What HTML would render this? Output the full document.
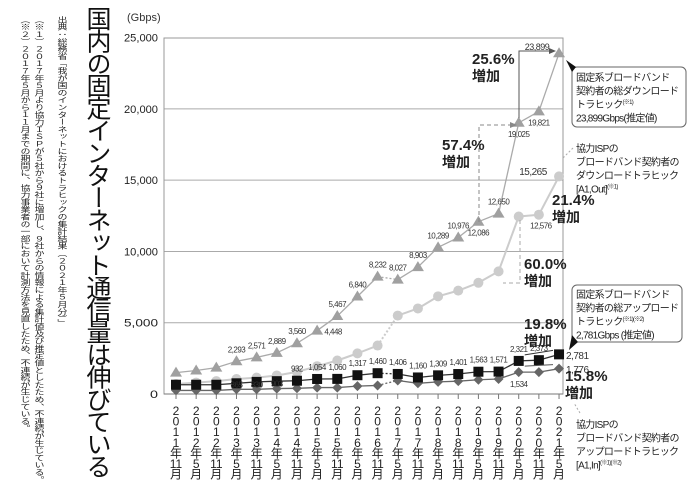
<!DOCTYPE html>
<html><head><meta charset="utf-8">
<style>
body{margin:0;background:#fff;}
#w{position:relative;width:688px;height:488px;overflow:hidden;font-family:"Liberation Sans","Noto Sans CJK JP",sans-serif;}
.v{position:absolute;writing-mode:vertical-rl;text-orientation:upright;white-space:nowrap;color:#222;}
.note{font-size:10px;transform:scaleY(0.73);transform-origin:top;line-height:12px;}
svg{position:absolute;left:0;top:0;}
</style></head><body><div id="w">
<div class="v" style="left:84px;top:6px;font-size:25px;font-weight:normal;letter-spacing:-2.6px;line-height:26px;color:#111;">国内の固定インターネット通信量は伸びている</div>
<div class="v note" style="left:54px;top:16px;">出典：総務省「我が国のインターネットにおけるトラヒックの集計結果（２０２１年５月分）」</div>
<div class="v note" style="left:31px;top:16px;">（※１）２０１７年５月より協力ＩＳＰが５社から９社に増加し、９社からの情報による集計値及び推定値としたため、不連続が生じている。</div>
<div class="v note" style="left:17px;top:16px;">（※２）２０１７年５月から１１月までの期間に、協力事業者の一部において計測方法を見直したため、不連続が生じている。</div>
<svg id="s" width="688" height="488" xmlns="http://www.w3.org/2000/svg" font-family="Liberation Sans, Noto Sans CJK JP, sans-serif"></svg>
</div>
<script>
const s=document.getElementById('s');let h='';
const X=i=>176+20.16*i, Y=v=>394-v*0.014256;
h+='<text x="127" y="21" font-size="11" fill="#333">(Gbps)</text>';
[0,5000,10000,15000,20000,25000].forEach(v=>{
 h+=`<text x="158" y="${Y(v)+4}" font-size="11" text-anchor="end" fill="#222" textLength="${v?34:8}" lengthAdjust="spacingAndGlyphs">${v?v.toLocaleString('en-US'):'0'}</text>`;
 if(v>0&&v<25000)h+=`<line x1="164" x2="563" y1="${Y(v)}" y2="${Y(v)}" stroke="#aaa" stroke-width="1"/>`;
});
h+='<rect x="164" y="38" width="399" height="356" fill="none" stroke="#999"/>';
h+='<line x1="164" x2="563" y1="394" y2="394" stroke="#777"/>';
const lab=['2011年11月','2012年5月','2012年11月','2013年5月','2013年11月','2014年5月','2014年11月','2015年5月','2015年11月','2016年5月','2016年11月','2017年5月','2017年11月','2018年5月','2018年11月','2019年5月','2019年11月','2020年5月','2020年11月','2021年5月'];
lab.forEach((t,i)=>{const x=X(i);h+=`<line x1="${x}" x2="${x}" y1="394" y2="399" stroke="#777"/>`;
 const parts=[t[0],t[1],t[2],t[3],'年',t.slice(5,-1),'月'];
 parts.forEach((p,k)=>h+=`<text x="${x}" y="${415+k*10.6}" font-size="12" text-anchor="middle" fill="#222">${p}</text>`);});
const T=[1500,1650,1850,2293,2571,2889,3560,4448,5467,6840,8232,8027,8903,10289,10976,12086,12650,19025,19821,23899];
const C=[700,800,900,1050,1150,1300,1550,1950,2350,2850,3400,5500,6000,6850,7250,7800,8600,12450,12576,15265];
const Q=[650,650,650,750,850,900,932,1054,1060,1317,1460,1406,1160,1309,1401,1563,1571,2321,2373,2781];
const D=[250,250,250,330,330,380,400,450,450,550,600,950,750,850,900,1000,1050,1534,1534,1776];
function line(a,col,w){for(let i=0;i<19;i++){const dash=(i==10)?' stroke-dasharray="2,2"':'';
 h+=`<line x1="${X(i)}" y1="${Y(a[i])}" x2="${X(i+1)}" y2="${Y(a[i+1])}" stroke="${col}" stroke-width="${w}"${dash}/>`;}}
line(C,'#ccc',2);line(T,'#aaa',1.3);line(D,'#666',1.3);line(Q,'#333',1.3);
C.forEach((v,i)=>h+=`<circle cx="${X(i)}" cy="${Y(v)}" r="5" fill="#ccc"/>`);
T.forEach((v,i)=>{const x=X(i),y=Y(v);h+=`<polygon points="${x},${y-6} ${x-6},${y+4} ${x+6},${y+4}" fill="#a0a0a0"/>`;});
D.forEach((v,i)=>{const x=X(i),y=Y(v);h+=`<polygon points="${x},${y-5} ${x+5},${y} ${x},${y+5} ${x-5},${y}" fill="#666"/>`;});
Q.forEach((v,i)=>{const x=X(i),y=Y(v);h+=`<rect x="${x-5}" y="${y-5}" width="10" height="10" fill="#111"/>`;});
function t(x,y,s,sz,anc){h+=`<text x="${x}" y="${y}" font-size="${sz||8}" fill="#333" text-anchor="${anc||'middle'}" letter-spacing="-0.5">${s}</text>`;}
[3,4,5,6,8,9,10,11,12,13,14].forEach(i=>t(X(i),Y(T[i])-9,T[i].toLocaleString('en-US')));
t(X(7)+16,Y(T[7])+4,'4,448');t(X(15),Y(T[15])+14,'12,086');t(X(16),Y(T[16])-9,'12,650');
t(X(17),Y(T[17])+14,'19,025');t(X(18),Y(T[18])+14,'19,821');
[6,7,8,9,10,11,12,13,14,15,16,17,18].forEach(i=>t(X(i),Y(Q[i])-9,Q[i].toLocaleString('en-US')));
t(X(3),Y(D[3])-2,'865');t(X(4),Y(D[4])-2,'830');t(X(5),Y(D[5])-2,'903');
t(X(17),Y(D[17])+15,'1,534');t(X(18)+2,Y(C[18])+14,'12,576');
t(537,50,'23,899',9);t(533,175,'15,265',10);t(566,359,'2,781',10,'start');t(566,373,'1,776',10,'start');
h+=`<polyline points="519,118 519,51 553,51" fill="none" stroke="#555" stroke-width="1"/><polygon points="556,51 549,48 549,54" fill="#555"/>`;
h+=`<polyline points="479,222 479,125 513,125" fill="none" stroke="#888" stroke-dasharray="4,3"/><polygon points="517,125 510,122 510,128" fill="#888"/>`;
h+=`<polyline points="520,220 520,283 503,283" fill="none" stroke="#aaa" stroke-dasharray="4,3"/>`;
h+=`<line x1="${X(17)+6}" y1="${Y(Q[17])-6}" x2="553" y2="${Y(Q[19])-4}" stroke="#333"/><line x1="${X(17)+6}" y1="${Y(D[17])-6}" x2="553" y2="${Y(D[19])-4}" stroke="#555"/>`;
function big(x,y,p){h+=`<text x="${x}" y="${y}" font-size="15" font-weight="bold" fill="#222">${p}</text><text x="${x}" y="${y+17}" font-size="14" font-weight="bold" fill="#222">増加</text>`;}
big(472,64,'25.6%');big(442,150,'57.4%');big(524,269,'60.0%');big(524,329,'19.8%');big(552,205,'21.4%');big(565,381,'15.8%');
h+=`<rect x="572" y="67" width="114" height="60" rx="5" fill="#fff" stroke="#666"/><polygon points="566,60 576,67 572,72" fill="#111"/>`;
h+=`<rect x="572" y="285" width="110" height="57" rx="5" fill="#fff" stroke="#666"/><polygon points="569,350 572,335 578,342" fill="#111"/>`;
function tl(x,y,arr){arr.forEach((s,k)=>h+=`<text x="${x}" y="${y+k*13.5}" font-size="10" fill="#222" letter-spacing="-0.7">${s}</text>`);}
tl(576,81,['固定系ブロードバンド','契約者の総ダウンロード','トラヒック<tspan font-size="6" dy="-4">(※1)</tspan>','23,899Gbps(推定値)']);
tl(576,152,['協力ISPの','ブロードバンド契約者の','ダウンロードトラヒック','[A1,Out]<tspan font-size="6" dy="-4">(※1)</tspan>']);
tl(576,298,['固定系ブロードバンド','契約者の総アップロード','トラヒック<tspan font-size="6" dy="-4">(※1)(※2)</tspan>','2,781Gbps (推定値)']);
tl(576,428,['協力ISPの','ブロードバンド契約者の','アップロードトラヒック','[A1,In]<tspan font-size="6" dy="-4">(※1)(※2)</tspan>']);
h+=`<line x1="573" y1="148" x2="563" y2="158" stroke="#aaa" stroke-dasharray="2,2"/><line x1="580" y1="413" x2="574" y2="403" stroke="#aaa" stroke-dasharray="2,2"/>`;
s.innerHTML=h;
</script>
</body></html>
